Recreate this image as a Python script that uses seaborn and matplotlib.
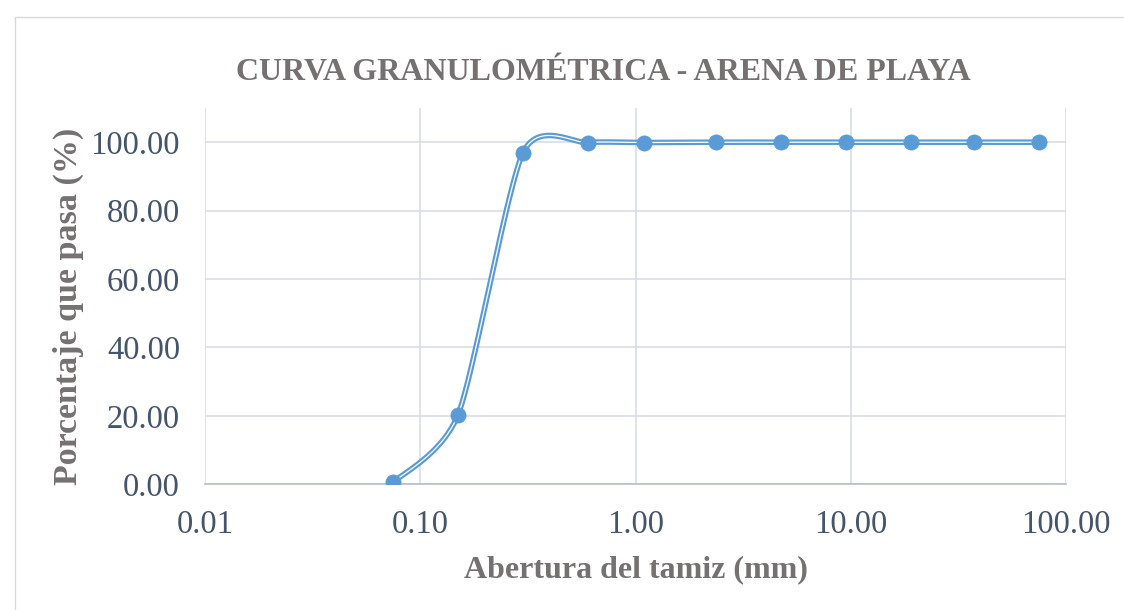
import numpy as np
import pandas as pd
import matplotlib
matplotlib.use("Agg")
import matplotlib.pyplot as plt
import seaborn as sns
from matplotlib.ticker import FixedLocator, FuncFormatter, NullLocator
from matplotlib.patches import Rectangle

# ---- data ----
abertura_mm = [0.075, 0.15, 0.30, 0.60, 1.10, 2.36, 4.75, 9.50, 19.0, 37.5, 75.0]
porcentaje_pasa = [0.6, 20.4, 96.9, 99.9, 99.9, 100.0, 100.0, 100.0, 100.0, 100.0, 100.0]
x_ticks = [0.01, 0.1, 1, 10, 100]
y_ticks = [0, 20, 40, 60, 80, 100]
title = "CURVA GRANULOMÉTRICA - ARENA DE PLAYA"
xlabel = "Abertura del tamiz (mm)"
ylabel = "Porcentaje que pasa (%)"

df = pd.DataFrame({"abertura": abertura_mm, "pasa": porcentaje_pasa})

sns.set_theme(style="white")
plt.rcParams["font.family"] = ["Liberation Serif", "DejaVu Serif"]

W, H = 1124, 610
fig = plt.figure(figsize=(W / 100, H / 100), dpi=100)
fig.patch.set_facecolor("white")
# chart area border
fig.patches.append(Rectangle((15 / W, -0.1), 1.2, 1 - 17 / H + 0.1, transform=fig.transFigure,
                             fill=False, edgecolor="#D9D9D9", linewidth=1.0))

left, right = 205 / W, 1066 / W
bottom, top = 1 - 484.3 / H, 1 - 108 / H
ax = fig.add_axes([left, bottom, right - left, top - bottom])
ax.set_xscale("log")
ax.set_xlim(0.01, 100)
ax.set_ylim(0, 110)

# smooth line (Excel-style Bezier smoothing in screen space)
decade_px = (right - left) * W / 4
unit_px = (top - bottom) * H / 110
u = np.log10(df["abertura"].values) * decade_px
v = df["pasa"].values * unit_px
P = np.column_stack([u, v])
n = len(P)
curve = []
k = 0.12
t = np.linspace(0, 1, 40)
for i in range(n - 1):
    p0 = P[i - 1] if i > 0 else P[i]
    p1 = P[i]
    p2 = P[i + 1]
    p3 = P[i + 2] if i + 2 < n else P[i + 1]
    c1 = p1 + (p2 - p0) * k
    c2 = p2 - (p3 - p1) * k
    seg = ((1 - t) ** 3)[:, None] * p1 + (3 * (1 - t) ** 2 * t)[:, None] * c1 \
        + (3 * (1 - t) * t ** 2)[:, None] * c2 + (t ** 3)[:, None] * p2
    curve.append(seg if i == 0 else seg[1:])
curve = np.vstack(curve)
cx = 10 ** (curve[:, 0] / decade_px)
cy = curve[:, 1] / unit_px

blue = "#5B9BD5"
ax.plot(cx, cy, color=blue, lw=4.0, solid_capstyle="round", zorder=3)
ax.plot(cx, cy, color="white", lw=0.9, zorder=4)
sns.scatterplot(data=df, x="abertura", y="pasa", ax=ax, color=blue, s=120,
                edgecolor=blue, linewidth=0.5, zorder=5, legend=False)

# grid
ax.xaxis.set_major_locator(FixedLocator(x_ticks))
ax.xaxis.set_minor_locator(NullLocator())
ax.yaxis.set_major_locator(FixedLocator(y_ticks))
ax.xaxis.set_major_formatter(FuncFormatter(lambda x, p: f"{x:.2f}"))
ax.yaxis.set_major_formatter(FuncFormatter(lambda y, p: f"{y:.2f}"))
ax.grid(True, color="#D9DDE4", linewidth=1.2)
ax.set_axisbelow(True)
for s in ["top", "right", "left"]:
    ax.spines[s].set_visible(False)
ax.spines["bottom"].set_color("#B4BDCB")
ax.spines["bottom"].set_linewidth(1.2)
ax.tick_params(axis="both", length=0, labelsize=23.5, labelcolor="#44546A")
ax.tick_params(axis="x", pad=18)
ax.tick_params(axis="y", pad=18)
ax.set_xlabel("")
ax.set_ylabel("")

fig.text(603 / W, 1 - 73 / H, title, ha="center", va="center", fontsize=23,
         fontweight="bold", color="#757171")
fig.text(636 / W, 1 - 570 / H, xlabel, ha="center", va="center", fontsize=23,
         fontweight="bold", color="#757171")
fig.text(68 / W, 1 - 306 / H, ylabel, ha="center", va="center", rotation=90,
         fontsize=24.5, fontweight="bold", color="#757171")

fig.savefig("out.png", dpi=100, facecolor="white")
